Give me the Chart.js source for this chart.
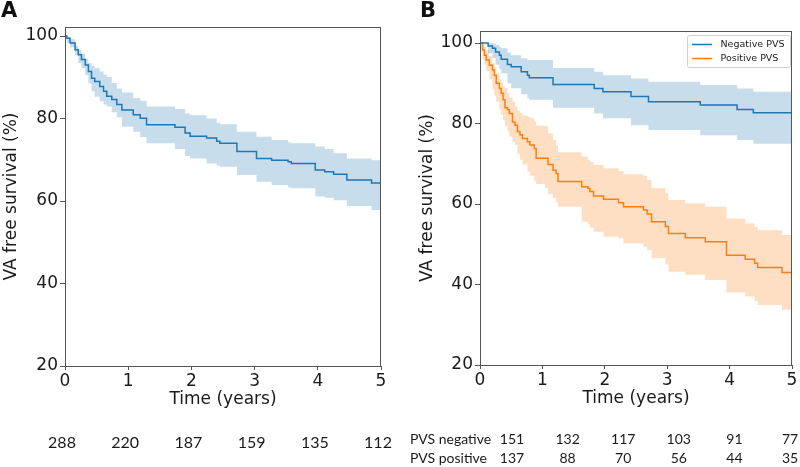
<!DOCTYPE html>
<html>
<head>
<meta charset="utf-8">
<script src="https://cdn.jsdelivr.net/npm/chart.js@4.4.0/dist/chart.umd.min.js"></script>
<style>
    body { margin: 0; background: #fff; overflow: hidden; }
    #wrap { position: relative; width: 800px; height: 467px; }
    #wrap canvas { position: absolute; top: 0; }
</style>
</head>
<body>
<div id="wrap">
    <canvas id="chart-a" width="400" height="467" style="left:0"></canvas>
    <canvas id="chart-b" width="400" height="467" style="left:400px"></canvas>
</div>
<script>
'use strict';

// ticks
var x_ticks = [0, 1, 2, 3, 4, 5];
var y_ticks = [20, 40, 60, 80, 100];

// panel A - all patients
var time_a = [0, 0.03, 0.08, 0.16, 0.21, 0.26, 0.32, 0.37, 0.42, 0.47, 0.55, 0.61, 0.66, 0.74, 0.82, 0.90, 1.08, 1.19, 1.29, 1.74, 1.90, 1.98, 2.24, 2.40, 2.45, 2.72, 3.03, 3.27, 3.53, 3.58, 3.96, 4.11, 4.25, 4.46, 4.85, 5];
var surv_a = [100, 99.5, 98.3, 96.7, 95.5, 94.3, 93.0, 91.4, 89.8, 89.0, 87.8, 86.6, 85.4, 84.6, 83.4, 82.1, 80.9, 80.1, 78.5, 77.9, 76.5, 75.7, 75.3, 74.5, 74.0, 72.0, 70.3, 69.9, 69.5, 69.1, 67.5, 67.1, 66.5, 65.1, 64.4, 64.4];
var upper_a = [100, 99.8, 99.2, 97.6, 96.6, 95.8, 94.5, 93.5, 92.8, 92.2, 91.4, 90.6, 90.1, 88.6, 87.3, 86.3, 85.0, 84.3, 82.9, 82.3, 81.2, 80.8, 80.0, 79.0, 78.6, 76.8, 75.6, 74.8, 74.2, 74.0, 73.2, 72.6, 71.6, 70.3, 69.9, 69.9];
var lower_a = [100, 98.4, 97.3, 95.4, 93.5, 92.2, 90.5, 88.5, 86.6, 85.3, 84.2, 83.4, 82.9, 81.5, 80.3, 78.0, 76.8, 75.5, 74.0, 72.6, 70.9, 70.3, 69.1, 68.6, 68.3, 66.3, 64.7, 63.9, 63.3, 63.1, 61.1, 60.8, 60.2, 58.8, 57.8, 57.8];
var risk_a = [288, 220, 187, 159, 135, 112];

// panel B - negative PVS
var time_neg = [0, 0.13, 0.20, 0.25, 0.31, 0.34, 0.44, 0.50, 0.66, 0.76, 0.79, 1.17, 1.83, 1.97, 2.42, 2.70, 3.53, 4.12, 4.38, 5];
var surv_neg = [100, 99.3, 98.7, 97.8, 97.0, 96.0, 94.7, 94.1, 92.9, 92.0, 91.4, 89.7, 88.7, 87.9, 86.7, 85.4, 84.6, 83.5, 82.7, 82.7];
var upper_neg = [100, 100, 99.9, 99.5, 99.0, 98.7, 97.6, 97.0, 96.2, 95.8, 95.8, 93.8, 92.9, 92.0, 91.2, 90.4, 89.6, 88.7, 87.9, 87.9];
var lower_neg = [100, 97.5, 96.3, 94.6, 93.5, 92.5, 90.0, 88.8, 87.3, 86.3, 85.9, 83.9, 82.5, 81.3, 79.6, 78.4, 77.1, 75.9, 75.0, 75.0];
var risk_neg = [151, 132, 117, 103, 91, 77];

// panel B - positive PVS
var time_pos = [0, 0.04, 0.07, 0.10, 0.15, 0.20, 0.23, 0.26, 0.31, 0.34, 0.37, 0.40, 0.44, 0.47, 0.52, 0.56, 0.60, 0.64, 0.68, 0.76, 0.80, 0.87, 0.90, 1.04, 1.09, 1.17, 1.22, 1.25, 1.63, 1.73, 1.76, 1.82, 1.98, 2.22, 2.30, 2.62, 2.68, 2.75, 2.97, 3.02, 3.29, 3.61, 3.95, 4.25, 4.40, 4.45, 4.84, 5];
var surv_pos = [100, 98.3, 97.0, 95.8, 94.5, 93.3, 92.0, 90.0, 88.7, 87.5, 85.9, 83.9, 83.4, 82.5, 80.4, 79.6, 78.0, 77.2, 76.3, 75.5, 74.7, 73.8, 71.4, 71.4, 69.8, 68.4, 67.6, 65.6, 64.3, 63.9, 63.1, 62.0, 61.2, 60.3, 59.3, 58.5, 57.5, 55.6, 54.4, 52.7, 51.6, 50.6, 47.3, 46.3, 45.3, 44.2, 43.0, 43.0];
var upper_pos = [100, 99.6, 99.0, 98.2, 96.8, 95.0, 94.0, 92.5, 91.0, 90.2, 89.3, 88.8, 87.5, 86.5, 85.5, 84.3, 83.2, 82.6, 82.0, 81.6, 81.4, 80.5, 79.5, 79.3, 77.6, 76.0, 74.5, 72.9, 71.8, 71.0, 70.5, 69.7, 68.9, 68.2, 67.4, 67.0, 66.0, 63.9, 62.7, 61.0, 60.2, 59.3, 56.4, 55.2, 54.3, 53.5, 52.3, 52.3];
var lower_pos = [100, 95.8, 94.6, 93.0, 91.0, 88.5, 87.0, 85.5, 83.5, 82.2, 80.8, 79.3, 78.0, 76.8, 75.5, 74.7, 72.5, 71.0, 69.8, 68.0, 67.0, 65.8, 65.0, 64.0, 62.5, 61.5, 60.5, 59.3, 55.6, 55.0, 54.2, 53.1, 51.9, 51.5, 50.2, 49.4, 48.5, 46.5, 45.0, 43.2, 42.4, 41.1, 38.0, 37.0, 35.9, 34.9, 33.7, 33.7];
var risk_pos = [137, 88, 70, 56, 44, 35];

var blue = '#1f77b4';
var orange = '#ff7f0e';
var blue_band = 'rgba(31,119,180,0.25)';
var orange_band = 'rgba(255,127,14,0.25)';
var axis_color = '#555';
var text_color = '#1a1a1a';
var font_family = '"DejaVu Sans", sans-serif';

var points = function(times, values) {
    return times.map(function(t, i) {
        return {x: t, y: values[i]};
    });
};

var km_line = function(label, times, values, color) {
    return {
        label: label,
        data: points(times, values),
        borderColor: color,
        borderWidth: 1.5,
        pointRadius: 0,
        stepped: true,
        fill: false
    };
};

var km_band = function(times, values, color, fill) {
    return {
        label: '',
        data: points(times, values),
        borderColor: 'transparent',
        borderWidth: 0,
        backgroundColor: color,
        pointRadius: 0,
        stepped: true,
        fill: fill
    };
};

function make_scales(y_max, y_width, title_pad) {
    return {
        x: {
            type: 'linear',
            min: 0,
            max: 5,
            afterBuildTicks: function(scale) {
                scale.ticks = x_ticks.map(function(v) { return {value: v}; });
            },
            afterFit: function(scale) { scale.height = 50; },
            grid: {drawOnChartArea: false, drawTicks: true, tickLength: 4, color: axis_color},
            border: {color: axis_color, width: 1},
            ticks: {color: text_color, font: {family: font_family, size: 17}, padding: 1, maxRotation: 0},
            title: {
                display: true,
                text: 'Time (years)',
                color: text_color,
                font: {family: font_family, size: 17},
                padding: {top: 0, bottom: 6}
            }
        },
        y: {
            type: 'linear',
            min: 20,
            max: y_max,
            afterBuildTicks: function(scale) {
                scale.ticks = y_ticks.map(function(v) { return {value: v}; });
            },
            afterFit: function(scale) { scale.width = y_width; },
            grid: {drawOnChartArea: false, drawTicks: true, tickLength: 5, color: axis_color},
            border: {color: axis_color, width: 1},
            ticks: {color: text_color, font: {family: font_family, size: 17}, padding: 2},
            title: {
                display: true,
                text: 'VA free survival (%)',
                color: text_color,
                font: {family: font_family, size: 17},
                padding: {top: title_pad, bottom: 0}
            }
        }
    };
}

// box around plot area + panel letter
var frame_plugin = {
    id: 'frame',
    afterDraw: function(chart, args, opts) {
        var ctx = chart.ctx;
        var a = chart.chartArea;
        ctx.save();
        ctx.strokeStyle = axis_color;
        ctx.lineWidth = 1;
        ctx.strokeRect(Math.round(a.left) + 0.5, Math.round(a.top) + 0.5,
            Math.round(a.right - a.left) - 1, Math.round(a.bottom - a.top));
        ctx.fillStyle = '#111';
        ctx.font = 'bold 21px "DejaVu Sans", sans-serif';
        ctx.textBaseline = 'alphabetic';
        ctx.textAlign = 'left';
        ctx.fillText(opts.letter, opts.letter_x, 17);
        ctx.restore();
    }
};

var risk_plugin_a = {
    id: 'risk_a',
    afterDraw: function(chart) {
        var ctx = chart.ctx;
        var xs = chart.scales.x;
        ctx.save();
        ctx.fillStyle = text_color;
        ctx.font = '16px Lato, sans-serif';
        ctx.textAlign = 'center';
        ctx.textBaseline = 'middle';
        risk_a.forEach(function(n, i) {
            ctx.fillText(String(n), xs.getPixelForValue(x_ticks[i]) - 3, 443);
        });
        ctx.restore();
    }
};

var risk_plugin_b = {
    id: 'risk_b',
    afterDraw: function(chart) {
        var ctx = chart.ctx;
        var a = chart.chartArea;
        var step = (a.right - a.left - 34) / 5;
        var rows = [['PVS negative', risk_neg, 439], ['PVS positive', risk_pos, 458]];
        ctx.save();
        ctx.fillStyle = text_color;
        ctx.font = '14px Lato, sans-serif';
        ctx.textBaseline = 'middle';
        rows.forEach(function(row) {
            ctx.textAlign = 'left';
            ctx.fillText(row[0], 10, row[2]);
            ctx.textAlign = 'center';
            row[1].forEach(function(n, i) {
                ctx.fillText(String(n), a.left + 32 + i * step, row[2]);
            });
        });
        ctx.restore();
    }
};

var legend_plugin = {
    id: 'legend_box',
    afterDraw: function(chart) {
        var ctx = chart.ctx;
        var a = chart.chartArea;
        var w = 103, h = 32;
        var x = a.right - w - 1.5, y = a.top + 4.5;
        var items = [['Negative PVS', blue], ['Positive PVS', orange]];
        ctx.save();
        ctx.fillStyle = 'rgba(255,255,255,0.8)';
        ctx.strokeStyle = '#d0d0d0';
        ctx.lineWidth = 1;
        ctx.beginPath();
        ctx.roundRect(x, y, w, h, 2);
        ctx.fill();
        ctx.stroke();
        ctx.font = '9.5px "DejaVu Sans", sans-serif';
        ctx.textBaseline = 'middle';
        ctx.textAlign = 'left';
        items.forEach(function(it, i) {
            var ly = y + 9 + i * 14;
            ctx.strokeStyle = it[1];
            ctx.lineWidth = 1.5;
            ctx.beginPath();
            ctx.moveTo(x + 4.5, ly);
            ctx.lineTo(x + 24.5, ly);
            ctx.stroke();
            ctx.fillStyle = text_color;
            ctx.fillText(it[0], x + 33, ly);
        });
        ctx.restore();
    }
};

var ctx_a = document.getElementById('chart-a').getContext('2d');
var ctx_b = document.getElementById('chart-b').getContext('2d');

var chart_a = new Chart(ctx_a, {
    type: 'line',
    data: {
        datasets: [
            km_line('All patients', time_a, surv_a, blue),
            km_band(time_a, upper_a, blue_band, '+1'),
            km_band(time_a, lower_a, blue_band, false)
        ]
    },
    options: {
        responsive: false,
        animation: false,
        devicePixelRatio: 1,
        layout: {padding: {left: 0, top: 27, right: 19, bottom: 51}},
        scales: make_scales(102.2, 65, 1),
        plugins: {
            legend: {display: false},
            tooltip: {enabled: false},
            frame: {letter: 'A', letter_x: 1}
        }
    },
    plugins: [frame_plugin, risk_plugin_a]
});

var chart_b = new Chart(ctx_b, {
    type: 'line',
    data: {
        datasets: [
            km_line('Negative PVS', time_neg, surv_neg, blue),
            km_line('Positive PVS', time_pos, surv_pos, orange),
            km_band(time_neg, upper_neg, blue_band, '+1'),
            km_band(time_neg, lower_neg, blue_band, false),
            km_band(time_pos, upper_pos, orange_band, '+1'),
            km_band(time_pos, lower_pos, orange_band, false)
        ]
    },
    options: {
        responsive: false,
        animation: false,
        devicePixelRatio: 1,
        layout: {padding: {left: 0, top: 31, right: 8, bottom: 52}},
        scales: make_scales(103, 80, 17),
        plugins: {
            legend: {display: false},
            tooltip: {enabled: false},
            frame: {letter: 'B', letter_x: 20}
        }
    },
    plugins: [frame_plugin, risk_plugin_b, legend_plugin]
});
</script>
</body>
</html>
